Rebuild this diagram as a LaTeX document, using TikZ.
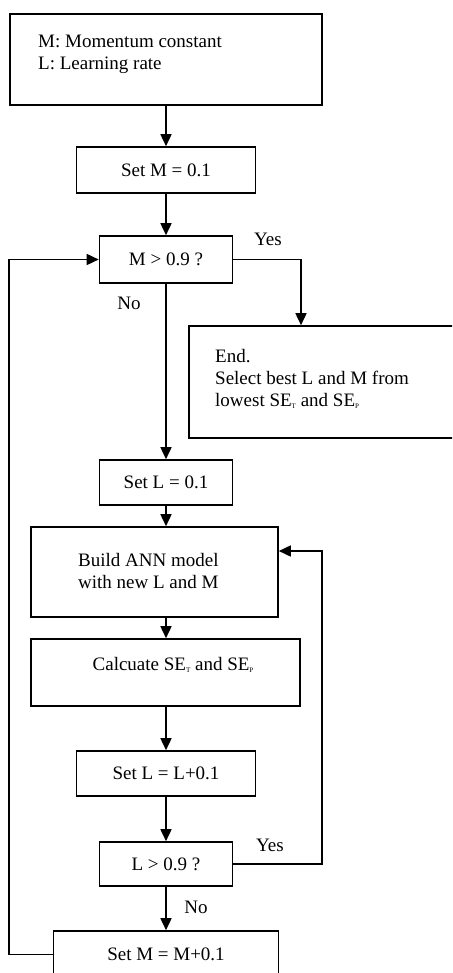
\documentclass[tikz,border=0pt]{standalone}
\usepackage{fontspec}
\setmainfont{Liberation Serif}
\usetikzlibrary{arrows.meta,calc}
\newcommand{\tinysub}[1]{\raisebox{-2.5pt}{\fontsize{7}{7}\selectfont #1}}
\begin{document}
\begin{tikzpicture}[x=1pt,y=-1pt,
  box/.style={draw, line width=1.6pt, rectangle, inner sep=0pt, font=\fontsize{19}{22}\selectfont},
  txt/.style={inner sep=0pt, font=\fontsize{19}{22}\selectfont},
  arr/.style={line width=1.6pt, -{Triangle[length=12pt,width=11pt]}},
  ln/.style={line width=1.6pt}]
\useasboundingbox (0,0) rectangle (452,973);
\clip (0,0) rectangle (452,973);
% boxes
\node[box, minimum width=312, minimum height=91] (start) at (166,59.5) {};
\node[txt, anchor=west, align=left] (starttxt) at (38,54) {M: Momentum constant\\L: Learning rate};
\node[box, minimum width=179, minimum height=46] (setM) at (166,170) {Set M = 0.1};
\node[box, minimum width=133, minimum height=47] (Mtest) at (166,259.5) {M > 0.9 ?};
\node[box, minimum width=282, minimum height=112] (endbox) at (330,382) {};
\node[txt, anchor=west, align=left] (endtxt) at (215,379) {End.\\Select best L and M from\\lowest SE\tinysub{T} and SE\tinysub{P}};
\node[box, minimum width=133, minimum height=45] (setL) at (166,482.5) {Set L = 0.1};
\node[box, minimum width=247, minimum height=90] (build) at (154.5,572) {};
\node[txt, anchor=west, align=left] (buildtxt) at (78,571) {Build ANN model\\with new L and M};
\node[box, minimum width=269, minimum height=67] (calc) at (165.5,672.5) {};
\node[txt] (calctxt) at (173,665) {Calcuate SE\tinysub{T} and SE\tinysub{P}};
\node[box, minimum width=179, minimum height=45] (incL) at (166,773.5) {Set L = L+0.1};
\node[box, minimum width=133, minimum height=44] (Ltest) at (166,864) {L > 0.9 ?};
\node[box, minimum width=225, minimum height=47] (incM) at (166,954.5) {Set M = M+0.1};
% labels
\node[txt] (yes1) at (268,239) {Yes};
\node[txt] (no1) at (129,303) {No};
\node[txt] (yes2) at (270,845) {Yes};
\node[txt] (no2) at (196,907) {No};
% connectors
\draw[arr] (start.south) -- (setM.north);
\draw[arr] (setM) -- (Mtest);
\draw[arr] (Mtest) -- (setL);
\draw[arr] (setL.south) -- (setL.south |- build.north);
\draw[arr] (build.south -| setL.south) -- (calc.north -| setL.south);
\draw[arr] (calc.south -| setL.south) -- (incL.north);
\draw[arr] (incL) -- (Ltest);
\draw[arr] (Ltest) -- (incM);
\coordinate (yesM) at (301,259.5);
\draw[arr] (Mtest.east) -- (yesM) -- (yesM |- endbox.north);
\coordinate (loopR) at (322,551);
\draw[arr] (Ltest.east) -| (loopR) -- (loopR -| build.east);
\coordinate (loopL) at (9,259.5);
\draw[arr] (incM.west) -| (loopL) -- (Mtest.west);
\end{tikzpicture}
\end{document}
